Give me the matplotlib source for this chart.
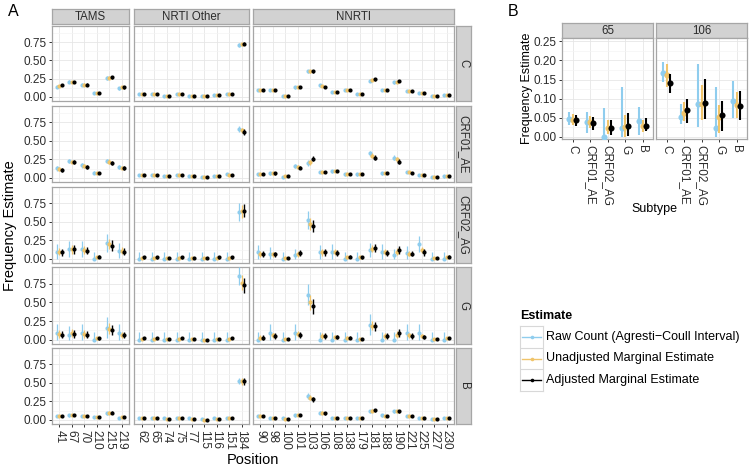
import numpy as np
import matplotlib
matplotlib.use("Agg")
import matplotlib.pyplot as plt

plt.rcParams['font.family'] = ['Liberation Sans', 'DejaVu Sans']

W, H = 749, 468

# ---------------- data: panel A ----------------
groups = ["TAMS", "NRTI Other", "NNRTI"]
pos_tams = ["41", "67", "70", "210", "215", "219"]
pos_nrti = ["62", "65", "74", "75", "77", "115", "116", "151", "184"]
pos_nnrti = ["90", "98", "100", "101", "103", "106", "108", "138", "179",
             "181", "188", "190", "221", "225", "227", "230"]
subtypes = ["C", "CRF01_AE", "CRF02_AG", "G", "B"]

adj_C = [0.16, 0.21, 0.17, 0.05, 0.27, 0.13,
         0.04, 0.04, 0.02, 0.04, 0.02, 0.01, 0.03, 0.04, 0.73,
         0.10, 0.09, 0.01, 0.14, 0.35, 0.14, 0.07, 0.09, 0.04, 0.24, 0.09, 0.22, 0.08, 0.05, 0.01, 0.03]
unadj_C = [0.15, 0.21, 0.17, 0.05, 0.26, 0.13,
           0.04, 0.04, 0.02, 0.04, 0.02, 0.01, 0.03, 0.04, 0.72,
           0.10, 0.09, 0.01, 0.13, 0.35, 0.15, 0.07, 0.09, 0.04, 0.23, 0.09, 0.21, 0.08, 0.05, 0.01, 0.03]
raw_C = [0.14, 0.21, 0.17, 0.05, 0.26, 0.12,
         0.04, 0.04, 0.02, 0.04, 0.02, 0.01, 0.03, 0.04, 0.71,
         0.10, 0.09, 0.01, 0.13, 0.35, 0.16, 0.07, 0.09, 0.04, 0.22, 0.09, 0.20, 0.08, 0.05, 0.01, 0.03]
raw_err_C = [0.02, 0.02, 0.02, 0.015, 0.025, 0.02,
             0.01, 0.01, 0.01, 0.01, 0.01, 0.01, 0.01, 0.01, 0.025,
             0.015, 0.015, 0.01, 0.02, 0.025, 0.02, 0.015, 0.015, 0.01, 0.02, 0.015, 0.02, 0.015, 0.01, 0.01, 0.01]
mod_err_C = [0.015, 0.015, 0.015, 0.01, 0.02, 0.015,
             0.01, 0.01, 0.01, 0.01, 0.01, 0.01, 0.01, 0.01, 0.02,
             0.01, 0.01, 0.01, 0.015, 0.02, 0.015, 0.01, 0.01, 0.01, 0.015, 0.01, 0.015, 0.01, 0.01, 0.01, 0.01]

adj_AE = [0.11, 0.21, 0.15, 0.07, 0.20, 0.13,
          0.04, 0.04, 0.02, 0.04, 0.03, 0.01, 0.03, 0.04, 0.62,
          0.05, 0.06, 0.02, 0.14, 0.26, 0.08, 0.09, 0.05, 0.05, 0.27, 0.07, 0.22, 0.07, 0.04, 0.01, 0.03]
unadj_AE = [0.12, 0.22, 0.16, 0.07, 0.22, 0.14,
            0.04, 0.04, 0.02, 0.04, 0.03, 0.01, 0.03, 0.04, 0.64,
            0.05, 0.06, 0.02, 0.15, 0.21, 0.08, 0.09, 0.05, 0.05, 0.30, 0.07, 0.25, 0.08, 0.04, 0.01, 0.03]
raw_AE = [0.13, 0.23, 0.17, 0.07, 0.23, 0.15,
          0.04, 0.04, 0.02, 0.04, 0.03, 0.01, 0.03, 0.05, 0.66,
          0.05, 0.06, 0.01, 0.16, 0.20, 0.08, 0.09, 0.05, 0.05, 0.33, 0.06, 0.27, 0.08, 0.04, 0.01, 0.02]
raw_err_AE = [0.03, 0.03, 0.03, 0.02, 0.03, 0.03,
              0.015, 0.015, 0.01, 0.015, 0.015, 0.01, 0.015, 0.015, 0.04,
              0.02, 0.02, 0.01, 0.03, 0.035, 0.02, 0.02, 0.02, 0.02, 0.035, 0.02, 0.035, 0.02, 0.015, 0.01, 0.015]
mod_err_AE = [0.025, 0.025, 0.025, 0.015, 0.03, 0.025,
              0.01, 0.01, 0.01, 0.01, 0.01, 0.01, 0.01, 0.01, 0.035,
              0.015, 0.015, 0.01, 0.025, 0.035, 0.015, 0.015, 0.015, 0.015, 0.035, 0.015, 0.03, 0.015, 0.01, 0.01, 0.01]

adj_AG = [0.09, 0.13, 0.11, 0.03, 0.18, 0.10,
          0.02, 0.02, 0.01, 0.02, 0.01, 0.01, 0.02, 0.02, 0.65,
          0.07, 0.06, 0.01, 0.08, 0.44, 0.09, 0.08, 0.03, 0.02, 0.15, 0.08, 0.12, 0.07, 0.09, 0.01, 0.03]
unadj_AG = [0.10, 0.13, 0.12, 0.02, 0.20, 0.11,
            0.01, 0.01, 0.01, 0.01, 0.01, 0.01, 0.01, 0.01, 0.64,
            0.07, 0.06, 0.01, 0.07, 0.47, 0.09, 0.09, 0.02, 0.02, 0.14, 0.09, 0.10, 0.07, 0.12, 0.01, 0.02]
raw_AG = [0.10, 0.13, 0.13, 0.00, 0.21, 0.11,
          0.00, 0.00, 0.00, 0.00, 0.00, 0.00, 0.00, 0.00, 0.63,
          0.09, 0.06, 0.00, 0.05, 0.52, 0.09, 0.10, 0.00, 0.00, 0.12, 0.10, 0.05, 0.08, 0.20, 0.00, 0.00]
raw_err_AG = [0.10, 0.11, 0.11, 0.09, 0.12, 0.10,
              0.09, 0.09, 0.09, 0.09, 0.09, 0.09, 0.09, 0.09, 0.12,
              0.10, 0.10, 0.09, 0.09, 0.12, 0.10, 0.10, 0.09, 0.09, 0.10, 0.10, 0.09, 0.09, 0.11, 0.09, 0.09]
mod_err_AG = [0.05, 0.06, 0.05, 0.02, 0.07, 0.05,
              0.015, 0.015, 0.01, 0.015, 0.01, 0.01, 0.015, 0.015, 0.09,
              0.04, 0.035, 0.01, 0.04, 0.08, 0.045, 0.04, 0.02, 0.015, 0.05, 0.04, 0.05, 0.035, 0.045, 0.01, 0.02]

adj_G = [0.07, 0.08, 0.07, 0.02, 0.13, 0.06,
         0.02, 0.02, 0.01, 0.02, 0.01, 0.00, 0.01, 0.02, 0.73,
         0.03, 0.05, 0.005, 0.07, 0.45, 0.05, 0.04, 0.03, 0.015, 0.18, 0.05, 0.09, 0.05, 0.04, 0.01, 0.02]
unadj_G = [0.08, 0.09, 0.08, 0.02, 0.15, 0.07,
           0.01, 0.01, 0.01, 0.01, 0.01, 0.00, 0.01, 0.01, 0.76,
           0.03, 0.06, 0.005, 0.08, 0.50, 0.05, 0.04, 0.03, 0.01, 0.19, 0.05, 0.07, 0.06, 0.05, 0.01, 0.02]
raw_G = [0.09, 0.07, 0.09, 0.00, 0.16, 0.09,
         0.00, 0.00, 0.00, 0.00, 0.00, 0.00, 0.00, 0.00, 0.85,
         0.00, 0.09, 0.00, 0.09, 0.60, 0.00, 0.00, 0.00, 0.00, 0.20, 0.00, 0.00, 0.09, 0.09, 0.00, 0.00]
raw_err_G = [0.12, 0.12, 0.12, 0.11, 0.14, 0.12,
             0.11, 0.11, 0.11, 0.11, 0.11, 0.11, 0.11, 0.11, 0.12,
             0.11, 0.12, 0.11, 0.12, 0.14, 0.11, 0.11, 0.11, 0.11, 0.14, 0.11, 0.11, 0.12, 0.12, 0.11, 0.11]
mod_err_G = [0.05, 0.05, 0.05, 0.02, 0.07, 0.04,
             0.015, 0.015, 0.01, 0.015, 0.01, 0.005, 0.01, 0.015, 0.10,
             0.03, 0.035, 0.005, 0.04, 0.10, 0.035, 0.03, 0.025, 0.01, 0.06, 0.035, 0.05, 0.035, 0.03, 0.01, 0.015]

adj_B = [0.05, 0.065, 0.05, 0.035, 0.10, 0.04,
         0.02, 0.02, 0.01, 0.02, 0.01, 0.00, 0.01, 0.02, 0.52,
         0.05, 0.02, 0.01, 0.06, 0.28, 0.09, 0.03, 0.03, 0.02, 0.13, 0.05, 0.12, 0.05, 0.03, 0.01, 0.02]
unadj_B = [0.05, 0.06, 0.05, 0.04, 0.10, 0.035,
           0.025, 0.025, 0.015, 0.02, 0.015, 0.005, 0.015, 0.02, 0.52,
           0.05, 0.02, 0.015, 0.06, 0.30, 0.095, 0.03, 0.03, 0.025, 0.125, 0.055, 0.12, 0.05, 0.03, 0.01, 0.02]
raw_B = [0.05, 0.06, 0.05, 0.04, 0.09, 0.03,
         0.03, 0.03, 0.02, 0.02, 0.02, 0.01, 0.02, 0.02, 0.52,
         0.05, 0.02, 0.02, 0.06, 0.32, 0.10, 0.03, 0.03, 0.03, 0.12, 0.06, 0.12, 0.05, 0.03, 0.01, 0.02]
raw_err_B = [0.015, 0.015, 0.015, 0.015, 0.02, 0.015,
             0.01, 0.01, 0.01, 0.01, 0.01, 0.01, 0.01, 0.01, 0.04,
             0.015, 0.01, 0.01, 0.015, 0.04, 0.025, 0.01, 0.01, 0.01, 0.02, 0.015, 0.02, 0.015, 0.01, 0.01, 0.01]
mod_err_B = [0.01, 0.01, 0.01, 0.01, 0.015, 0.01,
             0.01, 0.01, 0.01, 0.01, 0.01, 0.005, 0.01, 0.01, 0.045,
             0.01, 0.01, 0.005, 0.01, 0.035, 0.02, 0.01, 0.01, 0.01, 0.02, 0.01, 0.02, 0.01, 0.01, 0.005, 0.01]

# ---------------- data: panel B ----------------
b_facets = ["65", "106"]
b_subtypes = ["C", "CRF01_AE", "CRF02_AG", "G", "B"]
p65_raw = [0.047, 0.039, 0.000, 0.023, 0.040]
p65_raw_lo = [0.031, 0.011, 0.000, 0.000, 0.005]
p65_raw_hi = [0.064, 0.066, 0.075, 0.130, 0.078]
p65_unadj = [0.045, 0.038, 0.023, 0.025, 0.027]
p65_unadj_lo = [0.032, 0.022, 0.008, 0.000, 0.012]
p65_unadj_hi = [0.060, 0.055, 0.045, 0.057, 0.045]
p65_adj = [0.043, 0.037, 0.024, 0.027, 0.027]
p65_adj_lo = [0.027, 0.017, 0.005, 0.003, 0.014]
p65_adj_hi = [0.057, 0.053, 0.045, 0.062, 0.049]
p106_raw = [0.167, 0.053, 0.086, 0.023, 0.095]
p106_raw_lo = [0.144, 0.034, 0.025, 0.000, 0.049]
p106_raw_hi = [0.196, 0.085, 0.192, 0.130, 0.145]
p106_unadj = [0.162, 0.062, 0.086, 0.051, 0.083]
p106_unadj_lo = [0.130, 0.040, 0.043, 0.010, 0.050]
p106_unadj_hi = [0.190, 0.090, 0.136, 0.083, 0.118]
p106_adj = [0.140, 0.071, 0.088, 0.057, 0.080]
p106_adj_lo = [0.116, 0.037, 0.046, 0.014, 0.043]
p106_adj_hi = [0.165, 0.098, 0.152, 0.094, 0.120]

series_labels = ["Raw Count (Agresti\u2212Coull Interval)",
                 "Unadjusted Marginal Estimate",
                 "Adjusted Marginal Estimate"]

# ---------------- style ----------------
C_RAW = '#8FCDEE'
C_UNADJ = '#F0C46A'
C_ADJ = '#000000'
BORDER = '#A6A6A6'
STRIP = '#D2D2D2'
GRID_MAJ = '#E6E6E6'
GRID_MIN = '#F4F4F4'
TXT = '#2B2B2B'
TICKFS = 8.5
STRIPFS = 8.3

fig = plt.figure(figsize=(W / 100, H / 100), dpi=100)


def rect(x0, y0, x1, y1):
    return [x0 / W, 1 - y1 / H, (x1 - x0) / W, (y1 - y0) / H]


def style_axes(ax):
    for s in ax.spines.values():
        s.set_color(BORDER)
        s.set_linewidth(0.9)
    ax.set_facecolor('white')
    ax.tick_params(which='major', length=2.5, width=0.7, color='#333333',
                   labelsize=TICKFS, labelcolor=TXT, pad=1.5)
    ax.tick_params(which='minor', length=0)
    ax.set_axisbelow(True)


def strip_axes(box, text, rot=0):
    sa = fig.add_axes(rect(*box))
    sa.set_facecolor(STRIP)
    sa.set_xticks([]); sa.set_yticks([])
    for s in sa.spines.values():
        s.set_color(BORDER)
        s.set_linewidth(0.9)
    sa.text(0.5, 0.5, text, rotation=rot, ha='center', va='center',
            fontsize=STRIPFS, color=TXT, transform=sa.transAxes)


data_A = {
    "C": (raw_C, unadj_C, adj_C, raw_err_C, mod_err_C),
    "CRF01_AE": (raw_AE, unadj_AE, adj_AE, raw_err_AE, mod_err_AE),
    "CRF02_AG": (raw_AG, unadj_AG, adj_AG, raw_err_AG, mod_err_AG),
    "G": (raw_G, unadj_G, adj_G, raw_err_G, mod_err_G),
    "B": (raw_B, unadj_B, adj_B, raw_err_B, mod_err_B),
}

col_pos = [pos_tams, pos_nrti, pos_nnrti]
col_px = [(52, 129), (134, 249), (253, 454)]
row_px = [(26, 101), (106, 182), (187, 263), (267, 344), (348, 424)]
offs = [-0.2, 0.0, 0.2]
cols3 = [C_RAW, C_UNADJ, C_ADJ]

for ci, (g, (x0, x1)) in enumerate(zip(groups, col_px)):
    strip_axes((x0, 9, x1, 24), g)
for ri, (st, (y0, y1)) in enumerate(zip(subtypes, row_px)):
    strip_axes((456, y0, 471, y1), st, rot=270)

for ri, (st, (y0, y1)) in enumerate(zip(subtypes, row_px)):
    raw, unadj, adj, raw_err, mod_err = [np.array(a) for a in data_A[st]]
    start = 0
    for ci, (plist, (x0, x1)) in enumerate(zip(col_pos, col_px)):
        n = len(plist)
        sl = slice(start, start + n)
        start += n
        ax = fig.add_axes(rect(x0, y0, x1, y1))
        style_axes(ax)
        x = np.arange(n)
        ests = [raw[sl], unadj[sl], adj[sl]]
        los = [np.clip(raw[sl] - raw_err[sl], 0, None),
               np.clip(unadj[sl] - mod_err[sl], 0, None),
               np.clip(adj[sl] - mod_err[sl], 0, None)]
        his = [raw[sl] + raw_err[sl], unadj[sl] + mod_err[sl], adj[sl] + mod_err[sl]]
        lws = [0.9, 0.9, 1.0]
        for k in range(3):
            ax.vlines(x + offs[k], los[k], his[k], color=cols3[k], lw=lws[k], zorder=3 + k)
            ax.plot(x + offs[k], ests[k], 'o', color=cols3[k], ms=3.0, mew=0, zorder=3 + k)
        ax.set_xlim(-0.6, n - 0.4)
        ax.set_ylim(-0.055, 0.97)
        ax.set_yticks([0, 0.25, 0.5, 0.75])
        ax.set_yticks([0.125, 0.375, 0.625, 0.875], minor=True)
        ax.set_xticks(x)
        ax.grid(which='major', color=GRID_MAJ, lw=0.6)
        ax.grid(which='minor', axis='y', color=GRID_MIN, lw=0.5)
        if ci == 0:
            ax.set_yticklabels(["0.00", "0.25", "0.50", "0.75"])
        else:
            ax.tick_params(axis='y', left=False, labelleft=False)
        if ri == len(subtypes) - 1:
            ax.set_xticklabels(plist, rotation=270, va='top', ha='center')
        else:
            ax.tick_params(axis='x', bottom=False, labelbottom=False)

fig.text(10 / W, 1 - 226 / H, "Frequency Estimate", rotation=90, ha='center',
         va='center', fontsize=10.5, color='black')
fig.text(253 / W, 1 - 460 / H, "Position", ha='center', va='center',
         fontsize=10.5, color='black')
fig.text(8 / W, 1 - 11 / H, "A", ha='left', va='center', fontsize=11.5)
fig.text(508 / W, 1 - 12 / H, "B", ha='left', va='center', fontsize=11.5)

# ---------------- panel B ----------------
data_B = {
    "65": ((p65_raw, p65_raw_lo, p65_raw_hi),
           (p65_unadj, p65_unadj_lo, p65_unadj_hi),
           (p65_adj, p65_adj_lo, p65_adj_hi)),
    "106": ((p106_raw, p106_raw_lo, p106_raw_hi),
            (p106_unadj, p106_unadj_lo, p106_unadj_hi),
            (p106_adj, p106_adj_lo, p106_adj_hi)),
}
b_px = [(562, 653), (656, 747)]
boffs = [-0.18, 0.0, 0.18]
for fi, (fac, (x0, x1)) in enumerate(zip(b_facets, b_px)):
    strip_axes((x0, 23, x1, 38), fac)
    ax = fig.add_axes(rect(x0, 38, x1, 139))
    style_axes(ax)
    x = np.arange(len(b_subtypes))
    for k, (est, lo, hi) in enumerate(data_B[fac]):
        ax.vlines(x + boffs[k], lo, hi, color=cols3[k], lw=1.5, zorder=3 + k)
        ax.plot(x + boffs[k], est, 'o', color=cols3[k], ms=4.4, mew=0, zorder=3 + k)
    ax.set_xlim(-0.6, len(b_subtypes) - 0.4)
    ax.set_ylim(-0.006, 0.259)
    ax.set_yticks([0, 0.05, 0.10, 0.15, 0.20, 0.25])
    ax.set_yticks([0.025, 0.075, 0.125, 0.175, 0.225], minor=True)
    ax.set_xticks(x)
    ax.set_xticklabels(b_subtypes, rotation=270, va='top', ha='center')
    ax.grid(which='major', color=GRID_MAJ, lw=0.6)
    ax.grid(which='minor', axis='y', color=GRID_MIN, lw=0.5)
    if fi == 0:
        ax.set_yticklabels(["0.00", "0.05", "0.10", "0.15", "0.20", "0.25"])
    else:
        ax.tick_params(axis='y', left=False, labelleft=False)

fig.text(527 / W, 1 - 88 / H, "Frequency Estimate", rotation=90, ha='center',
         va='center', fontsize=9, color='black')
fig.text(654 / W, 1 - 209 / H, "Subtype", ha='center', va='center',
         fontsize=9, color='black')

# ---------------- legend ----------------
fig.text(520 / W, 1 - 316 / H, "Estimate", ha='left', va='center',
         fontsize=9, fontweight='bold')
lg = fig.add_axes(rect(520, 326, 543, 391))
lg.set_xlim(0, 1); lg.set_ylim(3, 0)
lg.set_xticks([]); lg.set_yticks([])
for s in lg.spines.values():
    s.set_color('#D8D8D8'); s.set_linewidth(0.8)
for k in range(3):
    lg.plot([0.1, 0.9], [k + 0.5, k + 0.5], color=cols3[k], lw=1.0)
    lg.plot([0.5], [k + 0.5], 'o', color=cols3[k], ms=2.6, mew=0)
    if k > 0:
        lg.axhline(k, color='#D8D8D8', lw=0.8)
    fig.text(546 / W, 1 - (326 + 65 / 3 * (k + 0.5)) / H, series_labels[k],
             ha='left', va='center', fontsize=9)

fig.savefig("out.png", dpi=100)
